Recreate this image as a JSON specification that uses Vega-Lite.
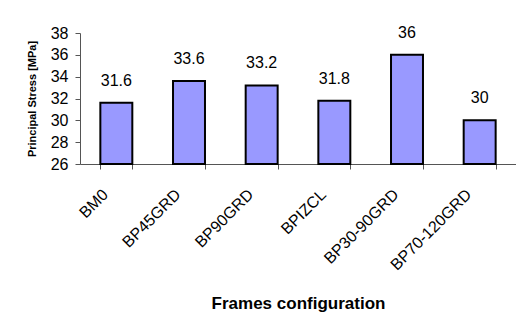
{
  "$schema": "https://vega.github.io/schema/vega-lite/v6.json",
  "width": 436,
  "height": 131,
  "autosize": "none",
  "padding": {"left": 80, "top": 33, "right": 0, "bottom": 153},
  "background": "white",
  "config": {"view": {"stroke": null}, "font": "Liberation Sans"},
  "data": {"values": [
    {"frame": "BM0", "stress": 31.6},
    {"frame": "BP45GRD", "stress": 33.6},
    {"frame": "BP90GRD", "stress": 33.2},
    {"frame": "BPIZCL", "stress": 31.8},
    {"frame": "BP30-90GRD", "stress": 36},
    {"frame": "BP70-120GRD", "stress": 30}
  ]},
  "encoding": {
    "x": {"field": "frame", "type": "nominal", "sort": null,
      "scale": {"paddingInner": 0.56, "paddingOuter": 0.28},
      "axis": {"title": "Frames configuration", "titleFont": "Liberation Sans", "titleFontSize": 17, "titleFontWeight": "bold", "titleColor": "black", "titlePadding": 23,
        "labelAngle": -45, "labelFontSize": 16, "labelColor": "black", "labelFont": "Liberation Sans", "labelPadding": 17, "labelOffset": -17,
        "tickBand": "extent", "tickSize": 5, "tickColor": "#555", "domainColor": "#555", "grid": false}},
    "y": {"field": "stress", "type": "quantitative",
      "scale": {"domain": [26, 38], "zero": false, "nice": false},
      "axis": {"title": "Principal Stress [MPa]", "titleFont": "Liberation Sans", "titleFontSize": 11, "titleFontWeight": "bold", "titleColor": "black", "titlePadding": 13,
        "values": [26, 28, 30, 32, 34, 36, 38], "labelFontSize": 16, "labelColor": "black", "labelPadding": 7,
        "tickSize": 5, "tickColor": "#555", "domainColor": "#555", "grid": false}}
  },
  "layer": [
    {"mark": {"type": "bar", "color": "#9999ff", "stroke": "black", "strokeWidth": 2},
     "encoding": {"y2": {"datum": 26}}},
    {"mark": {"type": "text", "fontSize": 16, "baseline": "bottom", "dy": -14, "color": "black"},
     "encoding": {"text": {"field": "stress", "type": "quantitative"}}}
  ]
}
